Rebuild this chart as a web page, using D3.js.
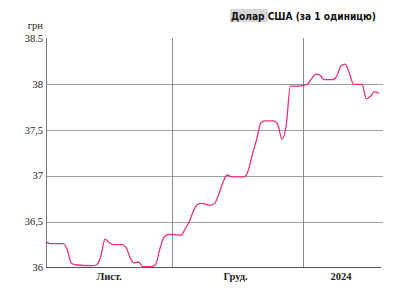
<!DOCTYPE html>
<html><head><meta charset="utf-8">
<script src="https://cdn.jsdelivr.net/npm/d3@7"></script>
<style>body{margin:0;background:#fff}svg{display:block}
.serif{font-family:"Liberation Serif","DejaVu Serif",serif}
</style>
</head><body><svg id="c" width="420" height="288"></svg>
<script>
const dates = ["2023-11-01","2023-11-02","2023-11-05","2023-11-06","2023-11-07","2023-11-08","2023-11-12","2023-11-13","2023-11-14","2023-11-15","2023-11-16","2023-11-17","2023-11-19","2023-11-20","2023-11-21","2023-11-22","2023-11-23","2023-11-24","2023-11-26","2023-11-27","2023-11-28","2023-11-29","2023-11-30","2023-12-01","2023-12-03","2023-12-04","2023-12-05","2023-12-06","2023-12-07","2023-12-08","2023-12-10","2023-12-11","2023-12-12","2023-12-13","2023-12-14","2023-12-15","2023-12-18","2023-12-19","2023-12-20","2023-12-21","2023-12-22","2023-12-23","2023-12-25","2023-12-26","2023-12-27","2023-12-28","2023-12-29","2023-12-31","2024-01-01","2024-01-02","2024-01-03","2024-01-04","2024-01-05","2024-01-06","2024-01-08","2024-01-09","2024-01-10","2024-01-11","2024-01-12","2024-01-13","2024-01-15","2024-01-16","2024-01-17","2024-01-18","2024-01-19"];
const rates = [36.28,36.26,36.26,36.20,36.05,36.03,36.02,36.03,36.12,36.31,36.27,36.25,36.25,36.22,36.10,36.05,36.06,36.01,36.01,36.03,36.20,36.33,36.36,36.36,36.35,36.42,36.50,36.62,36.69,36.70,36.68,36.70,36.80,36.93,37.01,36.99,36.99,37.06,37.24,37.40,37.58,37.60,37.60,37.56,37.40,37.55,37.98,37.98,37.99,38.00,38.06,38.11,38.10,38.05,38.05,38.09,38.20,38.22,38.12,38.00,38.00,37.84,37.87,37.92,37.90];
const yTicks = [36,36.5,37,37.5,38,38.5];
const yTickLabels = ["36","36,5","37","37,5","38","38.5"];
const monthBounds = ["2023-11-01","2023-12-01","2024-01-01"];
const xLabels = ["Лист.","Груд.","2024"];
const xLabelPos = ["2023-11-16","2023-12-16","2024-01-10"];
const titleHighlight = "Долар";
const titleRest = " США (за 1 одиницю)";
const unit = "грн";

const parse = d3.utcParse("%Y-%m-%d");
const svg = d3.select("#c");
const x = d3.scaleUtc().domain([parse("2023-11-01"), new Date(Date.UTC(2024,0,19,12))]).range([46, 381]);
const y = d3.scaleLinear().domain([36, 38.5]).range([267.5, 38.5]);

svg.append("g").selectAll("line").data(yTicks.slice(1, -1)).join("line")
  .attr("x1", 46).attr("x2", 383).attr("y1", d => Math.round(y(d)) + 0.5).attr("y2", d => Math.round(y(d)) + 0.5)
  .attr("stroke", "#a0a0a0").attr("stroke-width", 1);

svg.append("g").selectAll("line").data(monthBounds).join("line")
  .attr("x1", d => Math.round(x(parse(d))) + 0.5).attr("x2", d => Math.round(x(parse(d))) + 0.5)
  .attr("y1", 38).attr("y2", 267.5)
  .attr("stroke", d => d === monthBounds[0] ? "#777" : "#8a8a8a").attr("stroke-width", 1);

svg.append("line").attr("x1", 46).attr("x2", 381).attr("y1", 267.5).attr("y2", 267.5)
  .attr("stroke", "#555").attr("stroke-width", 1.2);

svg.append("g").selectAll("text").data(yTicks).join("text")
  .attr("class", "serif")
  .attr("x", 43).attr("y", d => y(d) + 3.5)
  .attr("text-anchor", "end").attr("font-size", 10.5).attr("fill", "#222")
  .text((d, i) => yTickLabels[i]);

svg.append("text").attr("class", "serif").attr("x", 43).attr("y", 29).attr("text-anchor", "end")
  .attr("font-size", 10.5).attr("fill", "#222").text(unit);

svg.append("g").selectAll("text").data(xLabels).join("text")
  .attr("class", "serif")
  .attr("x", (d, i) => x(parse(xLabelPos[i]))).attr("y", 280)
  .attr("text-anchor", "middle")
  .attr("font-weight", "bold").attr("font-size", 10.5).attr("fill", "#222")
  .text(d => d);

const data = dates.map((d, i) => ({ date: parse(d), v: rates[i] }));
svg.append("path").datum(data)
  .attr("fill", "none").attr("stroke", "#ec2f7e").attr("stroke-width", 1.3)
  .attr("stroke-linejoin", "round")
  .attr("d", d3.line().x(d => x(d.date)).y(d => y(d.v)).curve(d3.curveMonotoneX));

svg.append("rect").attr("x", 230).attr("y", 9).attr("width", 38).attr("height", 13).attr("fill", "#d6d6d6");
const t = svg.append("text").attr("x", 376).attr("y", 19.5).attr("text-anchor", "end")
  .style("font-family", "'DejaVu Sans', sans-serif").attr("font-weight", "bold").attr("font-size", 10)
  .attr("fill", "#111").attr("textLength", 145).attr("lengthAdjust", "spacingAndGlyphs");
t.append("tspan").text(titleHighlight);
t.append("tspan").text(titleRest);
</script></body></html>
